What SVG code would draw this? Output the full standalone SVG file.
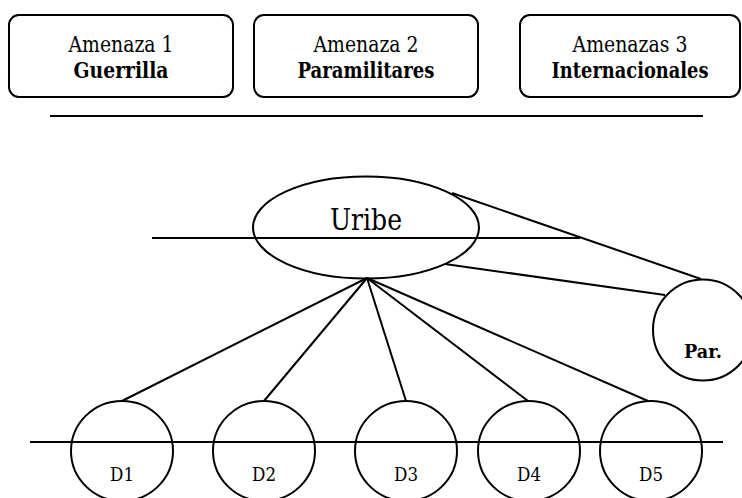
<svg xmlns="http://www.w3.org/2000/svg" width="742" height="498" viewBox="0 0 742 498">
<style>
.s{fill:none;stroke:#000;stroke-width:2}
.n{fill:#fff;stroke:#000;stroke-width:2}
text{font-family:'DejaVu Serif','Liberation Serif',serif;fill:#000;text-anchor:middle}
.a{font-size:21.5px}
.b{font-weight:bold}
.d{font-size:18px}
</style>
<rect width="742" height="498" fill="#fff"/>
<g id="amenaza1"><rect class="n" x="9" y="15" width="224" height="82" rx="10"/><text class="a" x="121" y="52" textLength="105" lengthAdjust="spacingAndGlyphs">Amenaza 1</text><text class="a b" x="121" y="78" textLength="95" lengthAdjust="spacingAndGlyphs">Guerrilla</text></g>
<g id="amenaza2"><rect class="n" x="254" y="15" width="224" height="82" rx="10"/><text class="a" x="366" y="52" textLength="105" lengthAdjust="spacingAndGlyphs">Amenaza 2</text><text class="a b" x="366" y="78" textLength="137" lengthAdjust="spacingAndGlyphs">Paramilitares</text></g>
<g id="amenaza3"><rect class="n" x="520" y="15" width="220" height="82" rx="10"/><text class="a" x="630" y="52" textLength="115" lengthAdjust="spacingAndGlyphs">Amenazas 3</text><text class="a b" x="630" y="78" textLength="157" lengthAdjust="spacingAndGlyphs">Internacionales</text></g>
<g id="connectors">
<line class="s" x1="50" y1="116" x2="703" y2="116"/>
<line class="s" x1="152" y1="238" x2="580" y2="238"/>
<line class="s" x1="30" y1="442" x2="723" y2="442"/>
<line class="s" x1="452" y1="193" x2="701" y2="279"/>
<line class="s" x1="445" y1="264" x2="665" y2="295"/>
<line class="s" x1="367" y1="278" x2="122" y2="401"/>
<line class="s" x1="367" y1="278" x2="264" y2="401"/>
<line class="s" x1="367" y1="278" x2="406" y2="401"/>
<line class="s" x1="367" y1="278" x2="528" y2="401"/>
<line class="s" x1="367" y1="278" x2="648" y2="401"/>
</g>
<g id="uribe"><ellipse class="s" cx="366" cy="227.5" rx="113" ry="51"/><text x="366" y="230" font-size="29" textLength="72" lengthAdjust="spacingAndGlyphs">Uribe</text></g>
<g id="par"><ellipse class="s" cx="703" cy="330" rx="50" ry="50.5"/><text class="b" x="703" y="358" font-size="19" textLength="38" lengthAdjust="spacingAndGlyphs">Par.</text></g>
<g id="d1"><ellipse class="s" cx="122" cy="451" rx="51" ry="50"/><text class="d" x="122" y="481" textLength="24" lengthAdjust="spacingAndGlyphs">D1</text></g>
<g id="d2"><ellipse class="s" cx="264" cy="451" rx="51" ry="50"/><text class="d" x="264" y="481" textLength="24" lengthAdjust="spacingAndGlyphs">D2</text></g>
<g id="d3"><ellipse class="s" cx="406" cy="451" rx="51" ry="50"/><text class="d" x="406" y="481" textLength="24" lengthAdjust="spacingAndGlyphs">D3</text></g>
<g id="d4"><ellipse class="s" cx="529" cy="451" rx="51" ry="50"/><text class="d" x="529" y="481" textLength="24" lengthAdjust="spacingAndGlyphs">D4</text></g>
<g id="d5"><ellipse class="s" cx="651" cy="451" rx="51" ry="50"/><text class="d" x="651" y="481" textLength="24" lengthAdjust="spacingAndGlyphs">D5</text></g>
</svg>
